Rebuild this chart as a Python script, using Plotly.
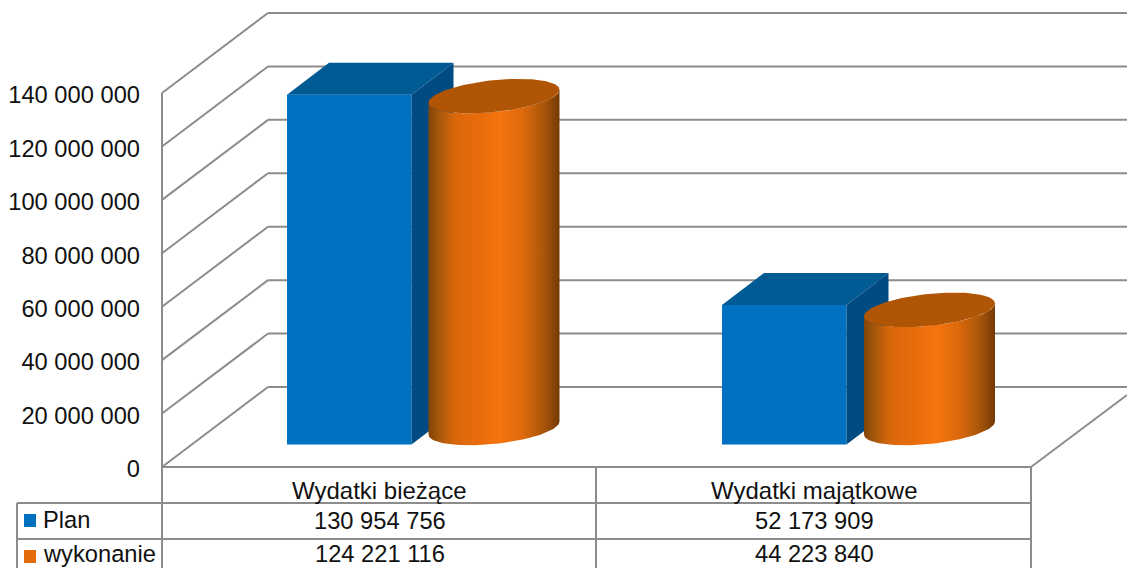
import numpy as np
import plotly.graph_objects as go

# data
categories = ['Wydatki bieżące', 'Wydatki majątkowe']
series_names = ['Plan', 'wykonanie']
plan = [130954756, 52173909]
wykonanie = [124221116, 44223840]
y_ticks = [0, 20000000, 40000000, 60000000, 80000000, 100000000, 120000000, 140000000]

# page and axis geometry, x axis runs in pixels
W, H = 1127, 568
Y0_PX, Y140_PX = 467, 93
PER_PX = 140000000 / (Y0_PX - Y140_PX)
GRID = '#8c8c8c'
TXT = '#111111'
FONT = 'Liberation Sans'
FONT_SIZE = 23.7


def px_y(p):
    # pixel row to axis value
    return (Y0_PX - p) * PER_PX


def paper_y(p):
    return 1 - p / H


def fmt(v):
    return f'{v:,}'.replace(',', ' ')


fig = go.Figure()
shapes = []
annotations = []

# walls: side line + back line for each tick
WALL_X0, WALL_X1 = 162, 268
WALL_DY = 80 * PER_PX
for t in y_ticks:
    xs = [WALL_X0, WALL_X1, W]
    ys = [t, t + WALL_DY, t + WALL_DY]
    for i in range(2):
        shapes.append(dict(type='line', xref='x', yref='y', layer='below',
                           x0=xs[i], x1=xs[i + 1], y0=ys[i], y1=ys[i + 1],
                           line=dict(color=GRID, width=2)))
# front edge of the left wall
shapes.append(dict(type='line', xref='x', yref='y', layer='below', x0=WALL_X0, x1=WALL_X0,
                   y0=0, y1=y_ticks[-1], line=dict(color=GRID, width=2)))
# floor right edge
shapes.append(dict(type='line', xref='x', yref='y', layer='below', x0=1031, x1=W,
                   y0=0, y1=px_y(395), line=dict(color=GRID, width=2)))

# plan = boxes
BOX_X = [287, 722]
BOX_W = 124.5
BOX_FLOOR = px_y(444.5)
DEPTH_X, DEPTH_Y = 42, 32 * PER_PX

fig.add_trace(go.Bar(x=[b + BOX_W / 2 for b in BOX_X], y=plan, base=BOX_FLOOR, width=BOX_W,
                     marker=dict(color='#0070c0', line=dict(width=0)), name=series_names[0]))
for x0, v in zip(BOX_X, plan):
    top = BOX_FLOOR + v
    x1 = x0 + BOX_W
    fig.add_trace(go.Scatter(x=[x0, x0 + DEPTH_X, x1 + DEPTH_X, x1, x0],
                             y=[top, top + DEPTH_Y, top + DEPTH_Y, top, top],
                             mode='lines', fill='toself', fillcolor='#005a94', line=dict(width=0)))
    fig.add_trace(go.Scatter(x=[x1, x1 + DEPTH_X, x1 + DEPTH_X, x1, x1],
                             y=[top, top + DEPTH_Y, BOX_FLOOR + DEPTH_Y, BOX_FLOOR, top],
                             mode='lines', fill='toself', fillcolor='#004b82', line=dict(width=0)))

# wykonanie = cylinders
CYL_X = [494, 929.5]
CYL_A = 65.5
CYL_B = 16 * PER_PX
CYL_S = 6.5 * PER_PX
CYL_FLOOR = px_y(428)
SHADE = [[0, '#814406'], [0.08, '#a5580c'], [0.2, '#d9670b'], [0.42, '#ec6d0c'],
         [0.55, '#f5750f'], [0.72, '#dd690c'], [0.88, '#a9560a'], [1, '#743a04']]

for cx, v in zip(CYL_X, wykonanie):
    top = CYL_FLOOR + v
    # lower half of base ellipse, then up the right side and back across the top
    t = np.linspace(np.pi, 2 * np.pi, 60)
    low_x = cx + CYL_A * np.cos(t)
    low_y = CYL_FLOOR + CYL_B * np.sin(t) + CYL_S * np.cos(t)
    top_x = low_x[::-1]
    top_y = low_y[::-1] + v
    fig.add_trace(go.Scatter(x=np.r_[low_x, top_x, low_x[0]], y=np.r_[low_y, top_y, low_y[0]],
                             mode='lines', fill='toself', line=dict(width=0),
                             fillgradient=dict(type='horizontal', colorscale=SHADE)))
    t = np.linspace(0, 2 * np.pi, 120)
    fig.add_trace(go.Scatter(x=cx + CYL_A * np.cos(t),
                             y=top + CYL_B * np.sin(t) + CYL_S * np.cos(t),
                             mode='lines', fill='toself', fillcolor='#b05506', line=dict(width=0)))

# data table
TABLE_ROWS = [467, 503, 539]
TABLE_COLS = [162, 596, 1031]
for i, r in enumerate(TABLE_ROWS):
    shapes.append(dict(type='line', xref='x', yref='paper', x0=17 if i else 162, x1=1031,
                       y0=paper_y(r), y1=paper_y(r), line=dict(color=GRID, width=2)))
for c in TABLE_COLS:
    shapes.append(dict(type='line', xref='x', yref='paper', x0=c, x1=c,
                       y0=paper_y(467), y1=0, line=dict(color=GRID, width=2)))
shapes.append(dict(type='line', xref='x', yref='paper', x0=17, x1=17,
                   y0=paper_y(503), y1=0, line=dict(color=GRID, width=2)))


def cell(x, p, text, anchor='center', size=FONT_SIZE):
    annotations.append(dict(xref='x', yref='paper', x=x, y=paper_y(p), text=text, showarrow=False,
                            xanchor=anchor, yanchor='middle', font=dict(family=FONT, size=size, color=TXT)))


COL_MID = [379.5, 814]
for i in range(2):
    cell(COL_MID[i], 490, categories[i], size=24)
    cell(COL_MID[i], 521, fmt(plan[i]))
    cell(COL_MID[i], 553.5, fmt(wykonanie[i]))
cell(41, 520, series_names[0], 'left')
cell(41, 553.5, series_names[1], 'left')
for p, colour in zip([514, 550], ['#0070c0', '#e36c0a']):
    shapes.append(dict(type='rect', xref='x', yref='paper', x0=24, x1=36,
                       y0=paper_y(p), y1=paper_y(p + 13), fillcolor=colour, line=dict(width=0)))

fig.update_layout(width=W, height=H, margin=dict(l=0, r=0, t=0, b=0), showlegend=False,
                  paper_bgcolor='white', plot_bgcolor='white', separators=', ',
                  shapes=shapes, annotations=annotations, hovermode=False)
fig.update_xaxes(range=[0, W], visible=False)
fig.update_yaxes(range=[px_y(H), px_y(0)], anchor='free', position=WALL_X0 / W, tickmode='array',
                 tickvals=y_ticks, ticktext=[fmt(t) for t in y_ticks], showgrid=False, zeroline=False,
                 showline=False, ticks='', ticklabelstandoff=22, ticklabelshift=2,
                 tickfont=dict(family=FONT, size=FONT_SIZE, color=TXT))

fig.write_html("out.html", config=dict(displayModeBar=False),
               post_script="document.body.style.margin='0';")
